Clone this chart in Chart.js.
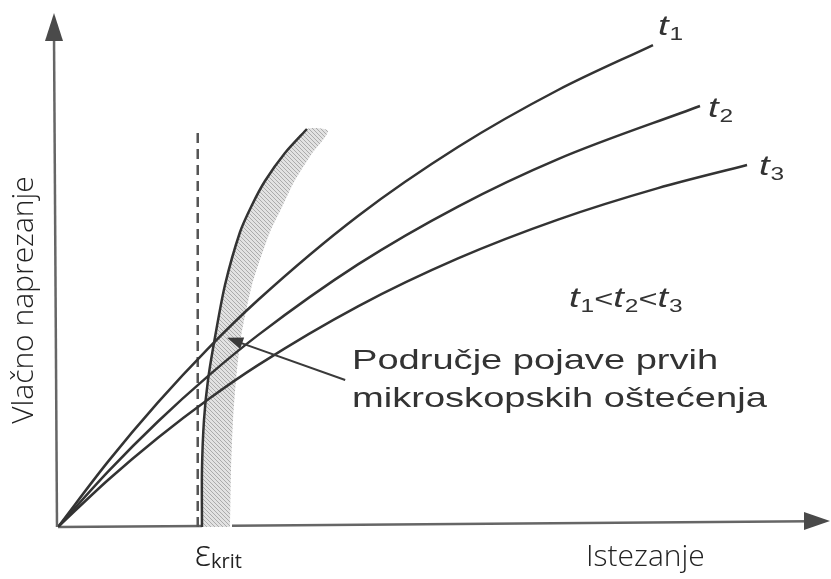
<!DOCTYPE html>
<html>
<head>
<meta charset="utf-8">
<script src="https://cdn.jsdelivr.net/npm/chart.js@4.4.0/dist/chart.umd.min.js"></script>
<style>
    body { margin: 0; background: #fff; }
    #wrap { width: 831px; height: 579px; }
</style>
</head>
<body>
<div id="wrap"><canvas id="chart" width="831" height="579"></canvas></div>
<script>
// strain (x) and stress (y) in arbitrary units, 0..100 on both axes
const t1X = [0, 6.48, 12.95, 19.43, 25.91, 38.86, 51.81, 64.77, 77.07];
const t1Y = [0, 12.72, 24.24, 34.71, 44.16, 60.51, 73.93, 85.02, 93.77];
const t2X = [0, 6.48, 12.95, 19.43, 25.91, 38.86, 51.81, 64.77, 83.16];
const t2Y = [0, 10.78, 20.53, 29.36, 37.33, 51.09, 62.35, 71.58, 81.91];
const t3X = [0, 6.48, 12.95, 19.43, 25.91, 38.86, 51.81, 64.77, 77.72, 89.25];
const t3Y = [0, 9.14, 17.37, 24.81, 31.50, 42.94, 52.26, 59.81, 65.93, 70.43];

// zone of first microscopic damage (left and right edge)
const bandLeftX = [18.65, 18.65, 18.91, 19.43, 20.34, 21.63, 23.58, 25.13, 26.81, 29.40, 32.25];
const bandLeftY = [0, 11.09, 20.82, 28.60, 36.96, 47.08, 57.39, 62.65, 67.32, 72.76, 77.43];
const bandRightX = [22.28, 22.41, 22.67, 23.06, 23.70, 25.13, 27.46, 29.02, 30.57, 32.77, 34.97];
const bandRightY = [0, 11.09, 20.82, 28.60, 36.96, 47.08, 57.39, 62.26, 67.12, 72.37, 77.04];

// critical strain
const epsKrit = 18.1;
const epsKritTop = 77.2;

const seriesLabels = ['1', '2', '3'];

function toPoints(xs, ys) {
    return xs.map((x, i) => ({ x: x, y: ys[i] }));
}

// hatch pattern for the band
const pc = document.createElement('canvas');
pc.width = 4; pc.height = 4;
const pctx = pc.getContext('2d');
pctx.fillStyle = '#e2e2e2';
pctx.fillRect(0, 0, 4, 4);
pctx.strokeStyle = '#ababab';
pctx.lineWidth = 1;
pctx.beginPath();
pctx.moveTo(0, 0); pctx.lineTo(4, 4);
pctx.moveTo(-2, 2); pctx.lineTo(2, 6);
pctx.moveTo(2, -2); pctx.lineTo(6, 2);
pctx.stroke();
const hatch = pctx.createPattern(pc, 'repeat');

const bandPoly = toPoints(bandLeftX, bandLeftY)
    .concat(toPoints(bandRightX, bandRightY).reverse());

const lineColor = '#333333';
const textColor = '#333333';
const STRETCH = 1.36;

// draws text stretched horizontally like the scanned figure, returns its width
function drawStretched(ctx, text, x, y, font) {
    ctx.save();
    ctx.font = font;
    const w = ctx.measureText(text).width * STRETCH;
    ctx.translate(x, y);
    ctx.scale(STRETCH, 1);
    ctx.fillText(text, 0, 0);
    ctx.restore();
    return w;
}

// italic t with subscript, returns width used
function drawT(ctx, sub, x, y) {
    const w = drawStretched(ctx, 't', x, y, 'italic 28px "Liberation Sans"') + 1;
    const w2 = drawStretched(ctx, sub, x + w, y + 5, '18px "Liberation Sans"');
    return w + w2;
}

const diagramPlugin = {
    id: 'diagram',
    beforeDatasetsDraw(chart) {
        const ctx = chart.ctx;
        const sx = v => chart.scales.x.getPixelForValue(v);
        const sy = v => chart.scales.y.getPixelForValue(v);
        const area = chart.chartArea;
        const x0 = sx(0), y0 = sy(0);
        const right = area.right;
        const tilt = 6;
        const yAt = x => y0 - tilt * (x - x0) / (right - x0);

        ctx.save();
        ctx.strokeStyle = '#666';
        ctx.fillStyle = '#4a4a4a';
        ctx.lineWidth = 2.5;

        // y axis
        ctx.beginPath();
        ctx.moveTo(x0 - 1, y0);
        ctx.lineTo(x0 - 4, area.top + 22);
        ctx.stroke();
        ctx.beginPath();
        ctx.moveTo(x0 - 4, area.top);
        ctx.lineTo(x0 - 13, area.top + 28);
        ctx.lineTo(x0 + 5, area.top + 28);
        ctx.closePath();
        ctx.fill();

        // x axis, broken at the band
        const gapL = sx(bandLeftX[0]);
        const gapR = sx(bandRightX[0]) + 2;
        ctx.beginPath();
        ctx.moveTo(x0, yAt(x0));
        ctx.lineTo(gapL, yAt(gapL));
        ctx.moveTo(gapR, yAt(gapR));
        ctx.lineTo(right - 20, yAt(right - 20));
        ctx.stroke();
        ctx.beginPath();
        ctx.moveTo(right, yAt(right));
        ctx.lineTo(right - 26, yAt(right) - 9);
        ctx.lineTo(right - 26, yAt(right) + 9);
        ctx.closePath();
        ctx.fill();
        ctx.restore();
    },
    afterDatasetsDraw(chart) {
        const ctx = chart.ctx;
        const sx = v => chart.scales.x.getPixelForValue(v);
        const sy = v => chart.scales.y.getPixelForValue(v);

        ctx.save();
        // annotation arrow
        const tipX = sx(21.9), tipY = sy(36.8);
        const tailX = sx(37.2), tailY = sy(28.6);
        ctx.strokeStyle = '#3a3a3a';
        ctx.fillStyle = '#3a3a3a';
        ctx.lineWidth = 2;
        ctx.beginPath();
        ctx.moveTo(tailX, tailY);
        ctx.lineTo(tipX + 8, tipY + 3);
        ctx.stroke();
        const ang = Math.atan2(tailY - tipY, tailX - tipX);
        ctx.beginPath();
        ctx.moveTo(tipX, tipY);
        ctx.lineTo(tipX + 16 * Math.cos(ang) - 6 * Math.sin(ang), tipY + 16 * Math.sin(ang) + 6 * Math.cos(ang));
        ctx.lineTo(tipX + 16 * Math.cos(ang) + 6 * Math.sin(ang), tipY + 16 * Math.sin(ang) - 6 * Math.cos(ang));
        ctx.closePath();
        ctx.fill();

        ctx.fillStyle = textColor;
        ctx.textBaseline = 'alphabetic';
        ctx.textAlign = 'left';

        // curve labels at the end of each curve
        const ends = [[t1X, t1Y, 5, -10], [t2X, t2Y, 8, 11], [t3X, t3Y, 12, 10]];
        ends.forEach((e, i) => {
            const xs = e[0], ys = e[1];
            const n = xs.length - 1;
            drawT(ctx, seriesLabels[i], sx(xs[n]) + e[2], sy(ys[n]) + e[3]);
        });

        // t1<t2<t3
        let x = 569;
        const y = 307;
        for (let i = 0; i < 3; i++) {
            x += drawT(ctx, seriesLabels[i], x, y);
            if (i < 2) {
                x += drawStretched(ctx, '<', x, y, '24px "Liberation Sans"');
            }
        }

        drawStretched(ctx, 'Područje pojave prvih', 352, 369, '28px "Liberation Sans"');
        drawStretched(ctx, 'mikroskopskih oštećenja', 352, 407, '28px "Liberation Sans"');

        // labels added on top of the original figure
        ctx.fillStyle = '#222';
        ctx.font = '300 30px "Open Sans"';
        ctx.fillText('Istezanje', 586, 566);

        const ex = sx(epsKrit) - 3;
        ctx.font = '300 36px "Open Sans"';
        ctx.fillText('ε', ex, 566);
        const ew = ctx.measureText('ε').width;
        ctx.font = '20px "Open Sans"';
        ctx.fillText('krit', ex + ew, 568);

        ctx.save();
        ctx.translate(33, 300);
        ctx.rotate(-Math.PI / 2);
        ctx.textAlign = 'center';
        ctx.font = '300 30px "Open Sans"';
        ctx.fillText('Vlačno naprezanje', 0, 0);
        ctx.restore();

        ctx.restore();
    }
};

const curveStyle = {
    showLine: true,
    borderColor: lineColor,
    borderWidth: 2.5,
    pointRadius: 0,
    fill: false,
    cubicInterpolationMode: 'monotone'
};

new Chart(document.getElementById('chart'), {
    type: 'scatter',
    data: {
        datasets: [
            Object.assign({ label: 't1', data: toPoints(t1X, t1Y) }, curveStyle),
            Object.assign({ label: 't2', data: toPoints(t2X, t2Y) }, curveStyle),
            Object.assign({ label: 't3', data: toPoints(t3X, t3Y) }, curveStyle),
            {
                label: 'band edge',
                data: toPoints(bandLeftX, bandLeftY),
                showLine: true,
                borderColor: lineColor,
                borderWidth: 2.5,
                pointRadius: 0,
                tension: 0.25
            },
            {
                label: 'eps krit',
                data: [{ x: epsKrit, y: 0 }, { x: epsKrit, y: epsKritTop }],
                showLine: true,
                borderColor: '#555',
                borderWidth: 2.5,
                borderDash: [10, 6],
                pointRadius: 0
            },
            {
                label: 'band',
                data: bandPoly,
                showLine: true,
                borderWidth: 0,
                borderColor: 'rgba(0,0,0,0)',
                backgroundColor: hatch,
                fill: 'shape',
                pointRadius: 0,
                tension: 0.25
            }
        ]
    },
    options: {
        responsive: false,
        animation: false,
        layout: { padding: { left: 58, top: 13, right: 1, bottom: 52 } },
        plugins: {
            legend: { display: false },
            tooltip: { enabled: false }
        },
        scales: {
            x: { type: 'linear', min: 0, max: 100, display: false },
            y: { type: 'linear', min: 0, max: 100, display: false }
        }
    },
    plugins: [diagramPlugin]
});
</script>
</body>
</html>
